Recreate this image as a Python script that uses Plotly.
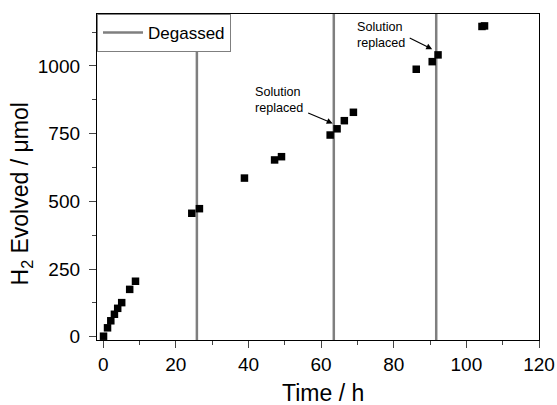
import plotly.graph_objects as go

time_h = [0.1, 1.2, 2.1, 3.1, 4.0, 5.1, 7.3, 8.9, 24.4, 26.5, 38.9, 47.2, 49.1,
          62.5, 64.4, 66.4, 68.9, 86.2, 90.6, 92.2, 104.3, 105.0]
h2_umol = [2, 33, 59, 83, 105, 126, 175, 205, 456, 473, 586, 653, 665,
           745, 768, 798, 829, 988, 1016, 1041, 1146, 1148]
degas_times = [25.8, 63.5, 91.7]
x_ticks = [0, 20, 40, 60, 80, 100, 120]
y_ticks = [0, 250, 500, 750, 1000]

FONT = "Liberation Sans, Arial, sans-serif"

fig = go.Figure()

fig.add_trace(go.Scatter(
    x=time_h, y=h2_umol, mode="markers",
    marker=dict(symbol="square", size=7.5, color="black"),
    showlegend=False, hoverinfo="x+y"))

for t in degas_times:
    fig.add_shape(type="line", xref="x", yref="paper", x0=t, x1=t, y0=0, y1=1,
                  line=dict(color="#7f7f7f", width=2.5), layer="below")

fig.add_trace(go.Scatter(
    x=[None], y=[None], mode="lines", name="Degassed",
    line=dict(color="#7f7f7f", width=2.5)))

# arrows
fig.add_annotation(x=63.2, y=788, ax=-26, ay=-11, text="", showarrow=True,
                   arrowhead=2, arrowsize=1, arrowwidth=1.2, arrowcolor="black")
fig.add_annotation(x=90.6, y=1062, ax=-24, ay=-12, text="", showarrow=True,
                   arrowhead=2, arrowsize=1, arrowwidth=1.2, arrowcolor="black")
fig.add_annotation(x=41.2, y=876, text="Solution<br>replaced", showarrow=False,
                   xanchor="left", yanchor="middle", align="left",
                   font=dict(family=FONT, size=12.6, color="black"))
fig.add_annotation(x=69.4, y=1116, text="Solution<br>replaced", showarrow=False,
                   xanchor="left", yanchor="middle", align="left",
                   font=dict(family=FONT, size=12.6, color="black"))

# axis titles
fig.add_annotation(xref="paper", yref="paper", x=-0.170, y=0.449,
                   text="H<sub>2</sub> Evolved / μmol", textangle=-90,
                   showarrow=False, xanchor="center", yanchor="middle",
                   font=dict(family=FONT, size=23, color="black"))
fig.add_annotation(xref="paper", yref="paper", x=0.511, y=-0.164,
                   text="Time / h", showarrow=False,
                   xanchor="center", yanchor="middle",
                   font=dict(family=FONT, size=23, color="black"))

fig.update_layout(
    width=557, height=405,
    margin=dict(l=97, r=18, t=14, b=65, autoexpand=False),
    paper_bgcolor="white", plot_bgcolor="white",
    font=dict(family=FONT, color="black"),
    legend=dict(x=0, y=1, xanchor="left", yanchor="top",
                bordercolor="#7f7f7f", borderwidth=1, bgcolor="white",
                font=dict(family=FONT, size=17, color="black"),
                itemwidth=40, tracegroupgap=0),
    xaxis=dict(range=[-1.7, 120], tickvals=x_ticks, ticks="outside", ticklen=7,
               tickwidth=1.2, showline=True, linecolor="black", linewidth=1.3,
               mirror=True, showgrid=False, zeroline=False, automargin=False,
               tickfont=dict(family=FONT, size=19, color="black"),
               minor=dict(ticks="outside", ticklen=4, dtick=10, tick0=0,
                          tickwidth=1.2, showgrid=False)),
    yaxis=dict(range=[-12, 1192], tickvals=y_ticks, ticks="outside", ticklen=7,
               tickwidth=1.2, showline=True, linecolor="black", linewidth=1.3,
               mirror=True, showgrid=False, zeroline=False, automargin=False,
               ticklabelstandoff=5,
               tickfont=dict(family=FONT, size=19, color="black"),
               minor=dict(ticks="outside", ticklen=4, dtick=125, tick0=0,
                          tickwidth=1.2, showgrid=False)),
)

fig.write_html("out.html", config={"displayModeBar": False},
               post_script="document.body.style.margin='0';document.body.style.overflow='hidden';")
